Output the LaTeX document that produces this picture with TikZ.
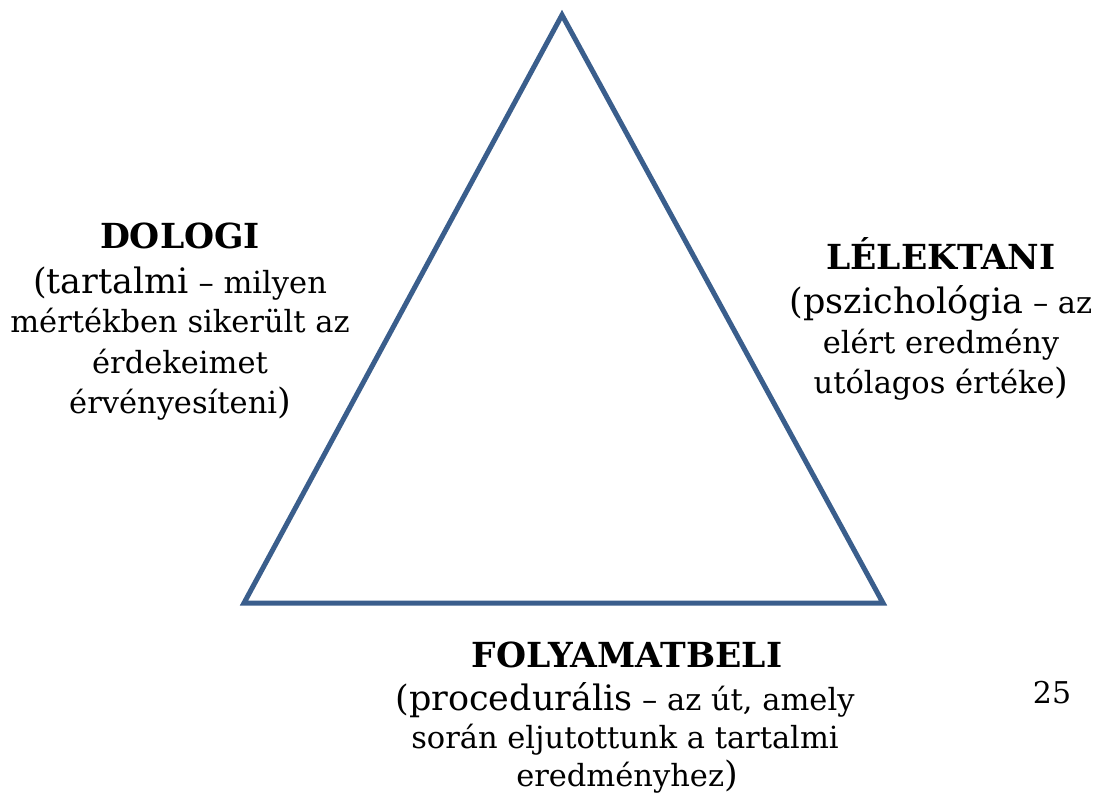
\documentclass[tikz,border=0pt]{standalone}
\usepackage{fontspec}
\setmainfont{DejaVu Serif}
\definecolor{triblue}{HTML}{3A5E8C}
\begin{document}
\begin{tikzpicture}[x=1pt,y=-1pt,
  edge/.style={draw=triblue,line width=5pt,line join=miter},
  head/.style={anchor=base,inner sep=0pt,font=\bfseries\fontsize{34.5}{40}\selectfont},
  body/.style={anchor=base,inner sep=0pt,font=\fontsize{30.5}{40}\selectfont}]
\useasboundingbox (0,0) rectangle (1102,796);
\newcommand{\lead}[1]{{\fontsize{35}{40}\selectfont #1}}
% triangle
\coordinate (apex) at (562,15);
\coordinate (bl) at (244,603);
\coordinate (br) at (883,603);
\draw[edge] (apex) -- (bl) -- (br) -- cycle;
% left corner text
\node[head] (dh) at (180,248) {DOLOGI};
\node[body] (d1) at (180,293) {\lead{(tartalmi} – milyen};
\node[body] (d2) at (180,332) {mértékben sikerült az};
\node[body] (d3) at (180,373) {érdekeimet};
\node[body] (d4) at (180,413) {érvényesíteni\lead{)}};
% right corner text
\node[head] (lh) at (941,269) {LÉLEKTANI};
\node[body] (l1) at (941,313) {\lead{(pszichológia} – az};
\node[body] (l2) at (941,353) {elért eredmény};
\node[body] (l3) at (941,393) {utólagos értéke\lead{)}};
% bottom text
\node[head] (fh) at (627,667) {FOLYAMATBELI};
\node[body] (f1) at (625,710) {\lead{(procedurális} – az út, amely};
\node[body] (f2) at (625,748) {során eljutottunk a tartalmi};
\node[body] (f3) at (627,786) {eredményhez\lead{)}};
% page number
\node[anchor=base,inner sep=0pt,font=\fontsize{30}{36}\selectfont] (pg) at (1052,703) {25};
\end{tikzpicture}
\end{document}
